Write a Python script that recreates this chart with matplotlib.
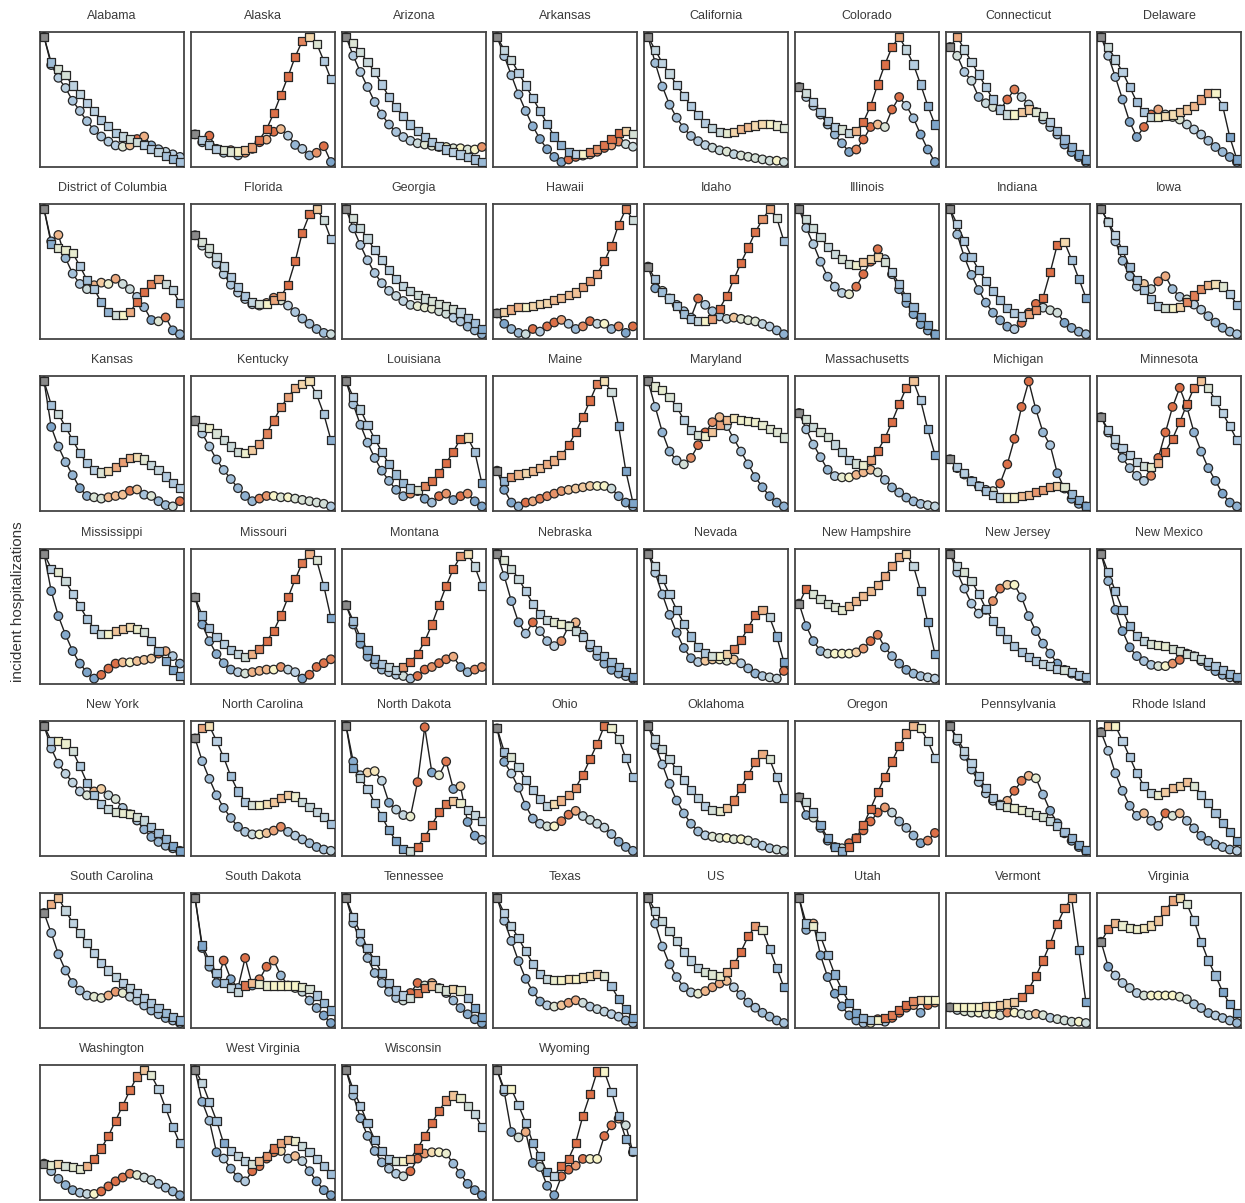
import numpy as np
import matplotlib
matplotlib.use("Agg")
import matplotlib.pyplot as plt
from matplotlib.colors import LinearSegmentedColormap, TwoSlopeNorm

plt.rcParams['font.family'] = ['Liberation Sans', 'DejaVu Sans']

# panel order, left to right, top to bottom
states = [
    "Alabama", "Alaska", "Arizona", "Arkansas", "California", "Colorado", "Connecticut", "Delaware",
    "District of Columbia", "Florida", "Georgia", "Hawaii", "Idaho", "Illinois", "Indiana", "Iowa",
    "Kansas", "Kentucky", "Louisiana", "Maine", "Maryland", "Massachusetts", "Michigan", "Minnesota",
    "Mississippi", "Missouri", "Montana", "Nebraska", "Nevada", "New Hampshire", "New Jersey", "New Mexico",
    "New York", "North Carolina", "North Dakota", "Ohio", "Oklahoma", "Oregon", "Pennsylvania", "Rhode Island",
    "South Carolina", "South Dakota", "Tennessee", "Texas", "US", "Utah", "Vermont", "Virginia",
    "Washington", "West Virginia", "Wisconsin", "Wyoming",
]

week = list(range(1, 21))

# square series (smoothed), relative scale per panel
squares = [
    [1.0, 0.8, 0.75, 0.7, 0.62, 0.55, 0.48, 0.42, 0.35, 0.3, 0.25, 0.22, 0.2, 0.18, 0.15, 0.12, 0.1, 0.07, 0.04, 0.02],
    [0.26, 0.22, 0.18, 0.15, 0.14, 0.13, 0.13, 0.14, 0.16, 0.22, 0.3, 0.42, 0.56, 0.7, 0.85, 0.97, 1.0, 0.95, 0.82, 0.68],
    [1.0, 0.95, 0.88, 0.8, 0.72, 0.62, 0.52, 0.44, 0.37, 0.3, 0.25, 0.2, 0.16, 0.13, 0.1, 0.08, 0.06, 0.04, 0.02, 0.0],
    [1.0, 0.9, 0.82, 0.72, 0.62, 0.52, 0.42, 0.32, 0.22, 0.15, 0.1, 0.08, 0.08, 0.1, 0.12, 0.15, 0.2, 0.25, 0.26, 0.24],
    [1.0, 0.9, 0.8, 0.72, 0.63, 0.55, 0.47, 0.4, 0.34, 0.3, 0.27, 0.26, 0.27, 0.29, 0.31, 0.32, 0.33, 0.33, 0.32, 0.3],
    [0.6, 0.55, 0.48, 0.4, 0.33, 0.28, 0.26, 0.23, 0.25, 0.32, 0.45, 0.62, 0.78, 0.92, 1.0, 0.9, 0.78, 0.62, 0.45, 0.3],
    [0.92, 1.0, 0.9, 0.8, 0.7, 0.6, 0.5, 0.42, 0.38, 0.38, 0.4, 0.42, 0.4, 0.37, 0.32, 0.25, 0.18, 0.12, 0.06, 0.02],
    [1.0, 0.92, 0.82, 0.72, 0.6, 0.48, 0.4, 0.36, 0.36, 0.37, 0.38, 0.4, 0.42, 0.45, 0.5, 0.55, 0.55, 0.45, 0.2, 0.02],
    [1.0, 0.73, 0.7, 0.68, 0.66, 0.56, 0.45, 0.38, 0.28, 0.2, 0.18, 0.18, 0.2, 0.28, 0.36, 0.42, 0.46, 0.42, 0.37, 0.27],
    [0.8, 0.75, 0.7, 0.63, 0.56, 0.48, 0.4, 0.33, 0.29, 0.27, 0.27, 0.3, 0.33, 0.42, 0.6, 0.82, 0.96, 1.0, 0.92, 0.77],
    [1.0, 0.93, 0.85, 0.77, 0.68, 0.6, 0.52, 0.45, 0.4, 0.36, 0.33, 0.3, 0.28, 0.26, 0.24, 0.22, 0.19, 0.15, 0.11, 0.06],
    [0.2, 0.21, 0.23, 0.25, 0.25, 0.26, 0.27, 0.28, 0.3, 0.32, 0.34, 0.36, 0.4, 0.45, 0.5, 0.6, 0.72, 0.88, 1.0, 0.92],
    [0.55, 0.45, 0.35, 0.3, 0.24, 0.18, 0.14, 0.12, 0.12, 0.14, 0.22, 0.32, 0.45, 0.58, 0.7, 0.82, 0.92, 1.0, 0.93, 0.75],
    [1.0, 0.92, 0.85, 0.78, 0.7, 0.64, 0.6, 0.56, 0.55, 0.58, 0.6, 0.62, 0.58, 0.5, 0.4, 0.3, 0.22, 0.14, 0.07, 0.0],
    [1.0, 0.88, 0.75, 0.62, 0.52, 0.43, 0.35, 0.28, 0.22, 0.18, 0.15, 0.17, 0.2, 0.3, 0.5, 0.72, 0.74, 0.6, 0.45, 0.3],
    [1.0, 0.9, 0.8, 0.68, 0.55, 0.45, 0.37, 0.3, 0.25, 0.23, 0.23, 0.24, 0.28, 0.33, 0.38, 0.41, 0.42, 0.4, 0.34, 0.26],
    [1.0, 0.82, 0.75, 0.65, 0.55, 0.45, 0.37, 0.32, 0.3, 0.31, 0.34, 0.38, 0.41, 0.42, 0.4, 0.36, 0.32, 0.27, 0.22, 0.18],
    [0.7, 0.65, 0.64, 0.6, 0.55, 0.5, 0.46, 0.45, 0.47, 0.52, 0.6, 0.7, 0.8, 0.88, 0.95, 0.98, 1.0, 0.9, 0.75, 0.55],
    [1.0, 0.88, 0.78, 0.66, 0.55, 0.45, 0.35, 0.27, 0.2, 0.16, 0.15, 0.18, 0.22, 0.28, 0.36, 0.45, 0.55, 0.56, 0.45, 0.2],
    [0.3, 0.22, 0.25, 0.27, 0.28, 0.3, 0.32, 0.35, 0.38, 0.42, 0.5, 0.6, 0.72, 0.85, 0.98, 1.0, 0.92, 0.65, 0.3, 0.05],
    [1.0, 0.96, 0.93, 0.88, 0.8, 0.7, 0.62, 0.58, 0.57, 0.6, 0.66, 0.7, 0.71, 0.7, 0.69, 0.68, 0.66, 0.63, 0.6, 0.56],
    [0.75, 0.7, 0.64, 0.6, 0.56, 0.5, 0.44, 0.38, 0.35, 0.34, 0.38, 0.45, 0.55, 0.68, 0.82, 0.95, 1.0, 0.85, 0.62, 0.42],
    [0.39, 0.33, 0.28, 0.22, 0.18, 0.14, 0.11, 0.09, 0.09, 0.09, 0.1, 0.11, 0.13, 0.15, 0.17, 0.18, 0.17, 0.12, 0.07, 0.02],
    [0.72, 0.62, 0.55, 0.48, 0.42, 0.37, 0.34, 0.33, 0.36, 0.45, 0.55, 0.68, 0.82, 0.95, 1.0, 0.95, 0.85, 0.75, 0.65, 0.54],
    [1.0, 0.88, 0.85, 0.78, 0.68, 0.58, 0.48, 0.4, 0.36, 0.36, 0.38, 0.4, 0.41, 0.4, 0.37, 0.3, 0.22, 0.14, 0.07, 0.02],
    [0.66, 0.52, 0.42, 0.35, 0.3, 0.25, 0.22, 0.2, 0.22, 0.26, 0.32, 0.4, 0.52, 0.66, 0.8, 0.93, 1.0, 0.95, 0.75, 0.5],
    [0.6, 0.48, 0.35, 0.25, 0.18, 0.14, 0.12, 0.1, 0.12, 0.16, 0.22, 0.32, 0.45, 0.6, 0.75, 0.88, 0.98, 1.0, 0.9, 0.75],
    [1.0, 0.95, 0.88, 0.8, 0.7, 0.6, 0.52, 0.47, 0.45, 0.44, 0.42, 0.38, 0.33, 0.28, 0.23, 0.18, 0.13, 0.09, 0.05, 0.01],
    [1.0, 0.9, 0.8, 0.68, 0.56, 0.45, 0.35, 0.27, 0.22, 0.2, 0.2, 0.21, 0.25, 0.32, 0.42, 0.52, 0.56, 0.5, 0.35, 0.15],
    [0.6, 0.72, 0.68, 0.64, 0.6, 0.57, 0.55, 0.58, 0.62, 0.66, 0.7, 0.75, 0.82, 0.9, 0.97, 1.0, 0.9, 0.7, 0.45, 0.2],
    [1.0, 0.9, 0.85, 0.78, 0.68, 0.56, 0.46, 0.38, 0.32, 0.26, 0.21, 0.17, 0.14, 0.12, 0.1, 0.08, 0.07, 0.05, 0.03, 0.01],
    [1.0, 0.85, 0.7, 0.55, 0.42, 0.34, 0.3, 0.28, 0.27, 0.26, 0.24, 0.22, 0.2, 0.18, 0.16, 0.13, 0.1, 0.07, 0.04, 0.01],
    [1.0, 0.88, 0.88, 0.86, 0.8, 0.68, 0.55, 0.45, 0.38, 0.34, 0.32, 0.31, 0.3, 0.28, 0.25, 0.2, 0.15, 0.1, 0.05, 0.01],
    [0.9, 0.98, 1.0, 0.88, 0.75, 0.6, 0.48, 0.4, 0.37, 0.37, 0.38, 0.4, 0.43, 0.45, 0.44, 0.4, 0.36, 0.32, 0.28, 0.22],
    [0.96, 0.65, 0.58, 0.5, 0.4, 0.3, 0.2, 0.12, 0.06, 0.05, 0.08, 0.15, 0.24, 0.33, 0.39, 0.41, 0.4, 0.35, 0.31, 0.27],
    [0.98, 0.8, 0.76, 0.68, 0.58, 0.5, 0.43, 0.38, 0.39, 0.42, 0.46, 0.52, 0.62, 0.74, 0.86, 1.0, 0.98, 0.9, 0.75, 0.6],
    [1.0, 0.9, 0.82, 0.74, 0.66, 0.58, 0.5, 0.44, 0.38, 0.35, 0.34, 0.36, 0.42, 0.52, 0.62, 0.72, 0.78, 0.74, 0.6, 0.44],
    [0.44, 0.4, 0.32, 0.22, 0.12, 0.05, 0.02, 0.05, 0.12, 0.22, 0.35, 0.48, 0.6, 0.72, 0.84, 0.94, 1.0, 0.98, 0.88, 0.75],
    [1.0, 0.9, 0.8, 0.7, 0.6, 0.5, 0.42, 0.37, 0.35, 0.34, 0.33, 0.31, 0.29, 0.27, 0.24, 0.2, 0.15, 0.1, 0.05, 0.01],
    [0.95, 1.0, 1.0, 0.88, 0.75, 0.62, 0.52, 0.46, 0.45, 0.47, 0.5, 0.52, 0.55, 0.52, 0.45, 0.38, 0.3, 0.22, 0.15, 0.08],
    [0.88, 0.95, 1.0, 0.9, 0.8, 0.72, 0.64, 0.56, 0.48, 0.42, 0.37, 0.32, 0.28, 0.24, 0.2, 0.16, 0.12, 0.08, 0.05, 0.02],
    [1.0, 0.62, 0.5, 0.4, 0.32, 0.28, 0.25, 0.3, 0.32, 0.31, 0.3, 0.3, 0.3, 0.3, 0.3, 0.29, 0.27, 0.22, 0.16, 0.1],
    [1.0, 0.85, 0.72, 0.6, 0.5, 0.4, 0.32, 0.26, 0.22, 0.2, 0.24, 0.28, 0.3, 0.28, 0.26, 0.27, 0.26, 0.2, 0.12, 0.05],
    [1.0, 0.88, 0.78, 0.68, 0.58, 0.48, 0.4, 0.36, 0.35, 0.35, 0.36, 0.36, 0.37, 0.38, 0.4, 0.38, 0.3, 0.2, 0.12, 0.05],
    [1.0, 0.9, 0.82, 0.74, 0.66, 0.58, 0.51, 0.45, 0.42, 0.4, 0.39, 0.42, 0.48, 0.58, 0.7, 0.78, 0.75, 0.6, 0.45, 0.3],
    [1.0, 0.8, 0.78, 0.7, 0.55, 0.4, 0.28, 0.18, 0.1, 0.06, 0.04, 0.04, 0.06, 0.08, 0.12, 0.16, 0.19, 0.2, 0.2, 0.2],
    [0.16, 0.16, 0.16, 0.16, 0.16, 0.17, 0.17, 0.18, 0.19, 0.2, 0.24, 0.3, 0.4, 0.52, 0.65, 0.8, 0.92, 1.0, 0.6, 0.2],
    [0.65, 0.75, 0.8, 0.78, 0.76, 0.75, 0.76, 0.78, 0.82, 0.9, 0.98, 1.0, 0.95, 0.82, 0.65, 0.5, 0.38, 0.25, 0.15, 0.08],
    [0.26, 0.25, 0.26, 0.24, 0.23, 0.22, 0.24, 0.3, 0.38, 0.48, 0.6, 0.72, 0.84, 0.95, 1.0, 0.96, 0.85, 0.7, 0.55, 0.42],
    [1.0, 0.9, 0.75, 0.6, 0.42, 0.36, 0.32, 0.28, 0.26, 0.28, 0.32, 0.38, 0.42, 0.45, 0.44, 0.4, 0.35, 0.3, 0.24, 0.18],
    [1.0, 0.85, 0.72, 0.58, 0.45, 0.36, 0.3, 0.28, 0.28, 0.3, 0.38, 0.48, 0.58, 0.68, 0.76, 0.8, 0.78, 0.72, 0.65, 0.55],
    [0.96, 0.82, 0.82, 0.7, 0.57, 0.42, 0.32, 0.2, 0.17, 0.25, 0.3, 0.42, 0.62, 0.78, 0.95, 0.95, 0.8, 0.62, 0.45, 0.36],
]

# circle series (raw), same scale as the squares in each panel
circles = [
    [1.0, 0.78, 0.68, 0.6, 0.5, 0.42, 0.34, 0.27, 0.22, 0.18, 0.15, 0.14, 0.15, 0.2, 0.22, 0.15, 0.12, 0.1, 0.08, 0.06],
    [0.26, 0.2, 0.25, 0.15, 0.12, 0.14, 0.1, 0.12, 0.15, 0.2, 0.22, 0.28, 0.3, 0.25, 0.18, 0.15, 0.1, 0.12, 0.17, 0.05],
    [1.0, 0.85, 0.72, 0.6, 0.48, 0.38, 0.3, 0.24, 0.2, 0.17, 0.15, 0.14, 0.13, 0.12, 0.12, 0.11, 0.11, 0.1, 0.1, 0.12],
    [1.0, 0.85, 0.7, 0.55, 0.42, 0.3, 0.2, 0.12, 0.06, 0.02, 0.04, 0.06, 0.07, 0.08, 0.1, 0.13, 0.15, 0.18, 0.16, 0.14],
    [1.0, 0.8, 0.62, 0.48, 0.38, 0.3, 0.24, 0.2, 0.17, 0.15, 0.13, 0.12, 0.1, 0.09, 0.08, 0.07, 0.06, 0.05, 0.05, 0.04],
    [0.6, 0.52, 0.45, 0.38, 0.3, 0.22, 0.15, 0.08, 0.1, 0.18, 0.28, 0.3, 0.28, 0.42, 0.52, 0.45, 0.35, 0.22, 0.1, 0.0],
    [0.92, 0.85, 0.72, 0.65, 0.52, 0.47, 0.44, 0.42, 0.5, 0.58, 0.52, 0.46, 0.4, 0.34, 0.28, 0.22, 0.14, 0.08, 0.04, 0.0],
    [1.0, 0.85, 0.68, 0.5, 0.32, 0.2, 0.28, 0.38, 0.42, 0.38, 0.36, 0.34, 0.3, 0.26, 0.22, 0.17, 0.12, 0.08, 0.04, 0.0],
    [1.0, 0.75, 0.8, 0.62, 0.5, 0.42, 0.38, 0.41, 0.43, 0.42, 0.46, 0.42, 0.38, 0.32, 0.24, 0.14, 0.13, 0.16, 0.06, 0.03],
    [0.8, 0.72, 0.66, 0.58, 0.5, 0.42, 0.36, 0.31, 0.27, 0.26, 0.28, 0.32, 0.3, 0.26, 0.21, 0.16, 0.12, 0.08, 0.05, 0.04],
    [1.0, 0.85, 0.72, 0.6, 0.5, 0.42, 0.36, 0.32, 0.28, 0.25, 0.24, 0.23, 0.22, 0.2, 0.18, 0.15, 0.12, 0.08, 0.05, 0.02],
    [0.2, 0.12, 0.08, 0.05, 0.04, 0.08, 0.06, 0.1, 0.13, 0.15, 0.12, 0.08, 0.1, 0.14, 0.12, 0.12, 0.08, 0.1, 0.05, 0.1],
    [0.55, 0.38, 0.36, 0.3, 0.25, 0.2, 0.15, 0.3, 0.25, 0.2, 0.16, 0.14, 0.15, 0.14, 0.13, 0.12, 0.1, 0.08, 0.05, 0.02],
    [1.0, 0.85, 0.72, 0.58, 0.46, 0.38, 0.33, 0.32, 0.38, 0.48, 0.58, 0.68, 0.6, 0.48, 0.36, 0.25, 0.16, 0.08, 0.03, 0.0],
    [1.0, 0.8, 0.62, 0.48, 0.36, 0.26, 0.18, 0.12, 0.07, 0.05, 0.1, 0.18, 0.25, 0.22, 0.2, 0.18, 0.1, 0.06, 0.03, 0.01],
    [1.0, 0.9, 0.75, 0.6, 0.48, 0.4, 0.42, 0.38, 0.44, 0.48, 0.38, 0.32, 0.3, 0.26, 0.22, 0.17, 0.12, 0.08, 0.05, 0.03],
    [1.0, 0.65, 0.5, 0.38, 0.28, 0.18, 0.12, 0.11, 0.1, 0.11, 0.12, 0.13, 0.16, 0.17, 0.13, 0.12, 0.08, 0.05, 0.04, 0.08],
    [0.7, 0.6, 0.5, 0.4, 0.32, 0.25, 0.18, 0.12, 0.08, 0.1, 0.12, 0.12, 0.11, 0.11, 0.1, 0.09, 0.08, 0.07, 0.06, 0.04],
    [1.0, 0.82, 0.66, 0.52, 0.4, 0.3, 0.22, 0.15, 0.1, 0.12, 0.14, 0.08, 0.05, 0.1, 0.12, 0.07, 0.1, 0.12, 0.06, 0.02],
    [0.3, 0.15, 0.05, 0.02, 0.05, 0.06, 0.08, 0.1, 0.12, 0.14, 0.15, 0.16, 0.17, 0.18, 0.18, 0.18, 0.16, 0.1, 0.05, 0.02],
    [1.0, 0.8, 0.6, 0.45, 0.38, 0.35, 0.4, 0.5, 0.6, 0.68, 0.72, 0.65, 0.55, 0.45, 0.35, 0.25, 0.17, 0.1, 0.05, 0.02],
    [0.75, 0.62, 0.5, 0.4, 0.3, 0.25, 0.24, 0.24, 0.26, 0.28, 0.3, 0.28, 0.22, 0.16, 0.12, 0.08, 0.05, 0.03, 0.02, 0.01],
    [0.39, 0.32, 0.27, 0.22, 0.18, 0.15, 0.14, 0.2, 0.35, 0.55, 0.8, 1.0, 0.78, 0.6, 0.5, 0.28, 0.16, 0.08, 0.04, 0.02],
    [0.72, 0.6, 0.5, 0.4, 0.32, 0.26, 0.22, 0.26, 0.4, 0.6, 0.8, 0.95, 0.8, 0.6, 0.45, 0.32, 0.22, 0.12, 0.05, 0.02],
    [1.0, 0.7, 0.5, 0.35, 0.22, 0.12, 0.05, 0.0, 0.03, 0.08, 0.12, 0.13, 0.13, 0.14, 0.15, 0.16, 0.2, 0.22, 0.18, 0.12],
    [0.66, 0.45, 0.32, 0.22, 0.15, 0.1, 0.08, 0.07, 0.08, 0.09, 0.1, 0.1, 0.12, 0.1, 0.08, 0.03, 0.06, 0.12, 0.15, 0.18],
    [0.6, 0.45, 0.3, 0.2, 0.14, 0.1, 0.08, 0.06, 0.05, 0.03, 0.05, 0.1, 0.12, 0.15, 0.18, 0.2, 0.12, 0.08, 0.1, 0.12],
    [1.0, 0.82, 0.62, 0.45, 0.36, 0.45, 0.38, 0.3, 0.26, 0.3, 0.42, 0.45, 0.35, 0.25, 0.18, 0.12, 0.07, 0.04, 0.02, 0.0],
    [1.0, 0.85, 0.68, 0.52, 0.38, 0.26, 0.18, 0.15, 0.16, 0.17, 0.17, 0.16, 0.17, 0.14, 0.1, 0.06, 0.04, 0.03, 0.02, 0.08],
    [0.6, 0.42, 0.3, 0.22, 0.2, 0.2, 0.2, 0.2, 0.21, 0.24, 0.3, 0.35, 0.25, 0.18, 0.12, 0.07, 0.04, 0.02, 0.01, 0.0],
    [1.0, 0.85, 0.72, 0.6, 0.52, 0.55, 0.62, 0.72, 0.75, 0.75, 0.65, 0.5, 0.38, 0.28, 0.2, 0.12, 0.07, 0.04, 0.02, 0.0],
    [1.0, 0.78, 0.55, 0.38, 0.25, 0.18, 0.14, 0.11, 0.1, 0.1, 0.12, 0.15, 0.2, 0.18, 0.14, 0.1, 0.06, 0.03, 0.01, 0.0],
    [1.0, 0.82, 0.7, 0.62, 0.55, 0.48, 0.45, 0.48, 0.5, 0.45, 0.42, 0.35, 0.3, 0.25, 0.18, 0.12, 0.08, 0.05, 0.03, 0.01],
    [0.9, 0.72, 0.58, 0.45, 0.35, 0.27, 0.2, 0.16, 0.14, 0.14, 0.15, 0.17, 0.2, 0.16, 0.13, 0.1, 0.07, 0.04, 0.02, 0.01],
    [0.96, 0.7, 0.6, 0.62, 0.63, 0.56, 0.4, 0.35, 0.31, 0.3, 0.55, 0.95, 0.62, 0.6, 0.7, 0.5, 0.52, 0.26, 0.16, 0.13],
    [0.98, 0.72, 0.63, 0.52, 0.38, 0.28, 0.24, 0.22, 0.22, 0.26, 0.31, 0.34, 0.3, 0.27, 0.24, 0.21, 0.16, 0.1, 0.06, 0.03],
    [1.0, 0.85, 0.7, 0.55, 0.42, 0.32, 0.24, 0.18, 0.15, 0.14, 0.13, 0.13, 0.12, 0.12, 0.11, 0.09, 0.07, 0.05, 0.04, 0.03],
    [0.44, 0.3, 0.28, 0.2, 0.1, 0.05, 0.04, 0.08, 0.12, 0.18, 0.25, 0.32, 0.36, 0.32, 0.25, 0.2, 0.14, 0.08, 0.1, 0.16],
    [1.0, 0.88, 0.76, 0.65, 0.55, 0.46, 0.4, 0.37, 0.4, 0.48, 0.56, 0.6, 0.58, 0.45, 0.32, 0.22, 0.14, 0.08, 0.03, 0.0],
    [0.95, 0.8, 0.62, 0.48, 0.36, 0.28, 0.3, 0.24, 0.2, 0.3, 0.28, 0.3, 0.24, 0.18, 0.12, 0.08, 0.05, 0.03, 0.01, 0.0],
    [0.88, 0.72, 0.55, 0.42, 0.32, 0.26, 0.22, 0.21, 0.2, 0.22, 0.25, 0.24, 0.21, 0.18, 0.14, 0.1, 0.07, 0.04, 0.02, 0.0],
    [1.0, 0.6, 0.45, 0.32, 0.5, 0.35, 0.28, 0.52, 0.3, 0.35, 0.45, 0.5, 0.38, 0.3, 0.28, 0.25, 0.18, 0.12, 0.06, 0.0],
    [1.0, 0.8, 0.65, 0.52, 0.4, 0.32, 0.25, 0.2, 0.18, 0.24, 0.32, 0.3, 0.32, 0.28, 0.24, 0.18, 0.12, 0.07, 0.03, 0.0],
    [1.0, 0.82, 0.66, 0.5, 0.36, 0.26, 0.18, 0.15, 0.14, 0.15, 0.17, 0.19, 0.17, 0.14, 0.12, 0.1, 0.08, 0.06, 0.03, 0.01],
    [1.0, 0.8, 0.62, 0.48, 0.38, 0.3, 0.26, 0.25, 0.27, 0.3, 0.33, 0.35, 0.3, 0.24, 0.18, 0.14, 0.1, 0.07, 0.04, 0.02],
    [1.0, 0.75, 0.8, 0.55, 0.38, 0.25, 0.15, 0.08, 0.04, 0.02, 0.02, 0.05, 0.03, 0.06, 0.1, 0.14, 0.16, 0.1, 0.16, 0.18],
    [0.16, 0.14, 0.13, 0.12, 0.12, 0.11, 0.11, 0.1, 0.12, 0.12, 0.11, 0.1, 0.11, 0.1, 0.08, 0.07, 0.06, 0.05, 0.05, 0.04],
    [0.65, 0.45, 0.38, 0.32, 0.28, 0.24, 0.22, 0.22, 0.22, 0.22, 0.22, 0.21, 0.19, 0.15, 0.12, 0.08, 0.06, 0.04, 0.02, 0.0],
    [0.26, 0.2, 0.14, 0.09, 0.05, 0.03, 0.02, 0.02, 0.04, 0.08, 0.12, 0.15, 0.18, 0.17, 0.15, 0.13, 0.1, 0.07, 0.04, 0.01],
    [1.0, 0.75, 0.6, 0.35, 0.3, 0.22, 0.15, 0.12, 0.2, 0.24, 0.3, 0.35, 0.36, 0.3, 0.32, 0.28, 0.2, 0.12, 0.05, 0.01],
    [1.0, 0.8, 0.62, 0.48, 0.36, 0.27, 0.22, 0.18, 0.16, 0.2, 0.3, 0.34, 0.35, 0.35, 0.34, 0.26, 0.18, 0.1, 0.05, 0.01],
    [0.96, 0.8, 0.5, 0.46, 0.5, 0.27, 0.24, 0.1, 0.03, 0.17, 0.22, 0.25, 0.3, 0.3, 0.3, 0.47, 0.55, 0.6, 0.55, 0.35],
]

# colour of each point = relative week-over-week change
# (blue falling, pale yellow flat, orange rising)
trend_cmap = LinearSegmentedColormap.from_list(
    "trend", [(0.0, "#7ea5ca"), (0.3, "#b8cfe2"), (0.5, "#f7f5ca"),
              (0.68, "#f0b98e"), (1.0, "#dc7048")])
trend_norm = TwoSlopeNorm(vmin=-0.28, vcenter=0.0, vmax=0.16)
first_col = "#8a8a8a"


def point_colors(vals):
    v = np.asarray(vals, dtype=float)
    rel = np.clip(np.diff(v) / (v[:-1] + 0.08), -0.28, 0.16)
    return [first_col] + [trend_cmap(trend_norm(x)) for x in rel]


W, H = 1245, 1203
fig = plt.figure(figsize=(W / 100, H / 100), dpi=100)

ncol = 8
pw, ph = 144, 135
x0, dx = 40, 151.0
y0, dy = 32, 172.2

for i, name in enumerate(states):
    r, c = divmod(i, ncol)
    left = x0 + c * dx
    top = y0 + r * dy
    ax = fig.add_axes([left / W, 1 - (top + ph) / H, pw / W, ph / H])

    for vals, mk, ms in [(circles[i], 'o', 38), (squares[i], 's', 34)]:
        ax.plot(week, vals, color="#1e1e1e", lw=1.0, zorder=2)
        ax.scatter(week, vals, c=point_colors(vals), marker=mk, s=ms,
                   edgecolors="#262626", linewidths=0.9, zorder=3)

    ax.margins(x=0.03, y=0.04)
    ax.set_xticks([])
    ax.set_yticks([])
    for sp in ax.spines.values():
        sp.set_color("#444444")
        sp.set_linewidth(1.3)
    ax.text(0.5, 1 + 16 / ph, name, transform=ax.transAxes, ha='center', va='center',
            fontsize=9, color="#3a3a3a")

fig.text(18 / W, 0.5, "incident hospitalizations", rotation=90, ha='center', va='center',
         fontsize=11, color="#333333")

fig.savefig("out.png", dpi=100)
